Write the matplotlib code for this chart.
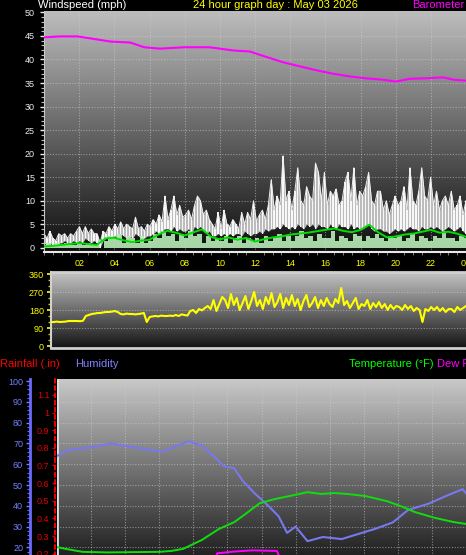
import numpy as np
import matplotlib
matplotlib.use('Agg')
import matplotlib.pyplot as plt
from matplotlib.colors import LinearSegmentedColormap
from matplotlib.ticker import MultipleLocator

plt.rcParams['font.family'] = ['Liberation Sans', 'DejaVu Sans']

# ---- data ----
hour_ticks = [2, 4, 6, 8, 10, 12, 14, 16, 18, 20, 22, 24]
hour_labels = ['02', '04', '06', '08', '10', '12', '14', '16', '18', '20', '22', '00']

# wind gust (mph), 10 minute samples
gust = [
    3, 2, 3.5, 2, 1.5, 3,      2.5, 3, 2, 3, 2.5, 3.5,
    4.5, 3, 4.5, 3, 4, 3,      3, 1, 3.5, 3, 4.5, 3.5,
    5, 4, 5.5, 4, 5, 4.5,      4, 6.5, 4, 4.5, 3.5, 5,
    4.5, 6, 5, 7, 5.5, 11,     6, 8, 11, 7, 9, 6.5,
    7, 8, 6, 9, 11, 10,        7, 8, 6, 5, 4, 7.5,
    4, 8, 5, 4.5, 6, 5,        4, 7.5, 5, 7.5, 6, 10,
    5.5, 7, 8, 6, 9, 14.5,     8, 11, 9, 19.5, 10, 12,
    8, 12, 17, 10, 9, 13,      11, 10, 18, 16, 10, 16,
    9, 12, 11, 12.5, 9, 10,    14, 16, 10, 17, 9, 12,
    11, 13, 16, 10, 9, 12,     12, 8, 10, 7, 9, 11,
    9, 10, 13, 8, 17, 10,      9, 12, 17, 11, 10, 15,
    9, 12, 8, 10, 11, 9,       12, 8, 9, 11, 7, 10,
]
# wind lull (mph), 10 minute samples
lull = [
    1, 0.5, 1, 0.5, 0.5, 1,    1, 1.5, 1, 1, 1.5, 1,
    1.5, 1, 2, 1.5, 1, 1.5,    1, 0, 1.5, 2, 2.5, 2,
    2.5, 2, 3, 2.5, 2, 2.5,    2, 3, 2.5, 2, 2, 2.5,
    2.5, 3, 3.5, 3, 3.5, 4,    4, 3.5, 4.5, 3.5, 4, 3.5,
    3.5, 4, 3, 4.5, 4, 4.5,    3.5, 3, 3.5, 2.5, 2.5, 3,
    2.5, 3, 2.5, 3, 2.5, 3,    3, 2.5, 3.5, 3, 2.5, 3,
    3, 3.5, 3, 4, 3.5, 4,      4, 4.5, 4, 5, 4.5, 4,
    4.5, 4, 5, 4.5, 4, 5,      4.5, 5, 4, 5, 4.5, 4.5,
    4, 5, 4.5, 4, 5, 4.5,      4.5, 4, 5, 4, 4.5, 4,
    4, 4.5, 5, 4, 3.5, 4,      4, 3.5, 3.5, 3, 3.5, 4,
    3.5, 4, 3.5, 4, 4.5, 4,    4, 3.5, 4.5, 4, 4, 4.5,
    4, 4.5, 4, 3.5, 4, 4.5,    4, 3.5, 4, 4.5, 3.5, 3,
]
# average wind speed (mph), 15 minute samples
avg_speed = [
    0.5, 1, 0.5, 1,   0.5, 1, 0.5, 0.5,   1, 0.5, 1, 0.5,   0.5, 0, 1.5, 2.5,
    2, 3, 1, 2.5,     2, 1, 2.5, 1,       1.5, 3, 2, 3.5,   2.5, 3, 1.5, 3,
    2, 3.5, 2.5, 3,   1, 2.5, 1.5, 2,     1.5, 2.5, 1, 2,   2.5, 1, 2, 1.5,
    2, 1, 2.5, 1.5,   2, 3, 1.5, 2.5,     1.5, 2.5, 3.5, 2, 2.5, 1.5, 3, 2,
    2, 3.5, 1.5, 2.5, 2, 1.5, 3, 2.5,     1.5, 2.5, 2, 3,   2, 1.5, 2.5, 2,
    2.5, 1.5, 2, 3,   1.5, 2.5, 2, 1.5,   2.5, 2, 3.5, 2,   2, 1.5, 2.5, 2,
]
# 10 minute average wind speed (mph), half hourly
avg10 = [0.3, 0.4, 0.6, 0.8, 1.0, 0.8, 0.6, 2.0, 2.1, 1.6, 1.2, 1.5, 1.7,
         2.8, 3.6, 3.2, 2.6, 3.3, 3.9, 2.3, 1.8, 2.2, 1.7, 2.1, 1.3, 1.8,
         2.2, 2.4, 2.8, 3.0, 3.2, 3.5, 3.8, 4.1, 3.6, 3.3, 3.8, 4.9, 3.3,
         2.2, 2.4, 2.8, 3.0, 3.4, 3.8, 3.2, 3.4, 3.0, 2.3]

# barometer trace (plotted on the wind scale)
baro_hours = [0, 0.9, 1.9, 2.6, 3.8, 4.9, 5.7, 6.6, 8.0, 9.4, 10.8, 11.7, 12.6,
              13.6, 14.6, 15.5, 16.4, 17.4, 18.3, 19.3, 20.0, 20.8, 21.7, 22.7,
              23.3, 24]
baro = [44.7, 44.9, 44.9, 44.5, 43.8, 43.6, 42.6, 42.3, 42.6, 42.6, 41.9, 41.7,
        40.6, 39.4, 38.5, 37.7, 37.0, 36.4, 36.0, 35.7, 35.3, 35.9, 36.0, 36.2,
        35.7, 35.5]

# wind direction (degrees), 10 minute samples
wind_dir = [
    120, 120, 122, 120, 121, 122,   125, 125, 125, 125, 124, 126,
    150, 155, 160, 162, 165, 165,   168, 170, 170, 172, 175, 170,
    160, 158, 162, 160, 160, 158,   160, 162, 165, 120, 145, 148,
    150, 148, 152, 150, 150, 152,   150, 155, 150, 158, 155, 152,
    175, 180, 165, 185, 178, 190,   200, 185, 230, 175, 210, 245,
    230, 190, 260, 205, 240, 180,   215, 250, 185, 225, 270, 200,
    230, 185, 245, 210, 265, 195,   220, 260, 190, 240, 205, 255,
    200, 235, 180, 225, 255, 195,   215, 245, 190, 230, 200, 240,
    210, 195, 235, 215, 290, 205,   225, 190, 215, 240, 185, 210,
    200, 230, 185, 215, 195, 220,   190, 210, 180, 205, 185, 200,
    195, 180, 205, 185, 200, 175,   190, 180, 120, 185, 175, 195,
    180, 195, 175, 190, 170, 185,   185, 170, 195, 180, 190, 200,
]

hum_hours = [0, 0.7, 1.9, 3.2, 4.6, 6.2, 7.7, 8.5, 9.3, 9.8, 10.4, 10.9, 11.6,
             12.4, 13.0, 13.5, 14.0, 14.7, 15.6, 16.7, 17.9, 18.7, 19.7, 20.6,
             21.8, 22.9, 23.8, 24]
humidity = [64, 67, 68, 70, 68, 66, 71, 69, 63, 59, 58, 52, 46, 40, 35, 27, 30,
            23, 25, 24, 27, 29, 32, 38, 41, 45, 48, 46]

temp_hours = [0, 0.5, 1.5, 3, 4.5, 6, 6.7, 7.4, 8.5, 9.5, 10.4, 11.0, 11.9, 12.8,
              13.9, 14.7, 15.5, 16.3, 17.0, 18.1, 19.4, 20.3, 21.0, 22.2, 23.3, 24]
temperature = [34.1, 33.5, 32.5, 32.3, 32.4, 32.5, 32.8, 33.5, 36.5, 40.2, 42.5,
               45.0, 48.9, 50.3, 51.6, 52.6, 52.0, 52.3, 52.0, 51.3, 49.5, 47.6,
               45.9, 43.9, 42.5, 41.9]

dew_hours = [0, 9.2, 9.4, 10.4, 11.5, 12.9, 13.2, 24]
dew_point = [28, 29, 32.0, 32.6, 33.0, 32.8, 29, 28]

rain_hours = [0, 24]
rainfall = [0, 0]

# ---- figure ----
W, H = 466, 555
fig = plt.figure(figsize=(W / 100, H / 100), dpi=100, facecolor='black')


def add_ax(x0, y0, x1, y1):
    return fig.add_axes([x0 / W, 1 - y1 / H, (x1 - x0) / W, (y1 - y0) / H])


def gradient(ax, top, bottom):
    cmap = LinearSegmentedColormap.from_list('g', [bottom, top])
    g = np.linspace(0, 1, 256).reshape(-1, 1)
    ax.imshow(g, extent=(0, 1, 0, 1), transform=ax.transAxes, aspect='auto',
              cmap=cmap, origin='lower', zorder=0, interpolation='bilinear')


grid_kw = dict(color='#d0d0d0', lw=0.8, ls=(0, (1, 1.5)), alpha=0.55, zorder=1)

# ---- wind speed panel ----
ax1 = add_ax(44, 11, 466, 252)
gradient(ax1, '#bdbdbd', '#0e0e0e')
t_gust = np.linspace(0, 24, len(gust))
t_avg = np.linspace(0, 24, len(avg_speed))
t_avg10 = np.linspace(0, 24, len(avg10))
ax1.fill_between(t_gust, lull, gust, color='#bcbcbc', lw=0, zorder=2)
ax1.bar(t_gust, np.array(gust) - np.array(lull), bottom=lull, width=0.08,
        color='#f8f8f8', lw=0, zorder=2)
ax1.plot(t_gust, gust, color='#eeeeee', lw=0.7, zorder=2)
ax1.fill_between(t_avg, 0, avg_speed, step='mid', color='#b8ecb8', lw=0,
                 alpha=0.9, zorder=3)
ax1.plot(t_avg10, avg10, color='#00e000', lw=1.4, zorder=4)
ax1.plot(baro_hours, baro, color='#ff00ff', lw=1.5, zorder=4)
ax1.set_xlim(0, 24)
ax1.set_ylim(-0.9, 50.3)
for h in hour_ticks[:-1]:
    ax1.axvline(h, **grid_kw)
for v in range(5, 50, 5):
    ax1.axhline(v, **grid_kw)
ax1.set_xticks(hour_ticks)
ax1.set_xticklabels(hour_labels)
ax1.set_yticks(range(0, 51, 5))
ax1.yaxis.set_minor_locator(MultipleLocator(1))
ax1.xaxis.set_minor_locator(MultipleLocator(0.5))
ax1.tick_params(axis='y', which='major', colors='#e8eef8', labelsize=6.5,
                length=3, width=1, pad=3.5)
ax1.tick_params(axis='y', which='minor', colors='#c0c0c0', length=2, width=0.8)
ax1.tick_params(axis='x', which='major', colors='#ffff00', labelsize=6.5,
                length=0, pad=5)
ax1.tick_params(axis='x', which='minor', colors='#909090', length=2, width=0.6)
for s in ['top', 'right']:
    ax1.spines[s].set_visible(False)
ax1.spines['left'].set_color('#c8c8c8')
ax1.spines['bottom'].set_color('#e8e8e8')
ax1.spines['bottom'].set_linewidth(1.5)

# ---- wind direction panel ----
ax2 = add_ax(51, 272, 466, 348)
gradient(ax2, '#c4c4c4', '#141414')
t_dir = np.linspace(0, 24, len(wind_dir))
ax2.plot(t_dir, wind_dir, color='#ffff00', lw=1.5, zorder=3)
ax2.set_xlim(0, 24)
ax2.set_ylim(-10, 370)
for v in (90, 180, 270):
    ax2.axhline(v, **grid_kw)
ax2.set_xticks([])
ax2.set_yticks([0, 90, 180, 270, 360])
ax2.yaxis.set_minor_locator(MultipleLocator(30))
ax2.tick_params(axis='y', which='major', colors='#ffff00', labelsize=6.5,
                length=3, width=1.2, pad=2)
ax2.tick_params(axis='y', which='minor', colors='#c8c800', length=2, width=1)
for s in ['top', 'bottom']:
    ax2.spines[s].set_color('#d0d0d0')
    ax2.spines[s].set_linewidth(2)
ax2.spines['right'].set_visible(False)
ax2.spines['left'].set_color('#d0d0d0')
ax2.spines['left'].set_linewidth(1.5)

# ---- temperature / humidity / rain panel ----
ax3 = add_ax(57, 379, 466, 590)
gradient(ax3, '#c8c8c8', '#000000')
ax3.set_xlim(0, 24)
ax3.set_ylim(-0.006, 1.19)
ax3.plot(rain_hours, rainfall, color='#ff0000', lw=1.2, zorder=3)
ax3.axvline(0, color='#e0e0e0', lw=2, zorder=2)
ax3.set_xticks([])
ax3.set_yticks(np.round(np.arange(0, 1.11, 0.1), 1))
ax3.set_yticklabels(['0', '0.1', '0.2', '0.3', '0.4', '0.5', '0.6', '0.7', '0.8',
                     '0.9', '1', '1.1'])
ax3.yaxis.set_minor_locator(MultipleLocator(0.05))
ax3.tick_params(axis='y', which='major', colors='#e00000', labelsize=6.5,
                length=2.5, width=1, pad=1.5)
ax3.tick_params(axis='y', which='minor', colors='#c00000', length=1.5, width=0.8)
for s in ['top', 'right', 'bottom']:
    ax3.spines[s].set_visible(False)
ax3.spines['left'].set_color('#ff0000')
ax3.spines['left'].set_linestyle((0, (2, 2)))
ax3.spines['left'].set_linewidth(1.3)
ax3.spines['left'].set_position(('outward', 1.5))

ax_h = ax3.twinx()
ax_h.set_ylim(-0.5, 101)
ax_h.set_xlim(0, 24)
for h in hour_ticks[:-1]:
    ax_h.axvline(h, **grid_kw)
for v in range(10, 100, 10):
    ax_h.axhline(v, **grid_kw)
ax_h.plot(hum_hours, humidity, color='#7878ee', lw=1.5, zorder=4)
ax_h.yaxis.tick_left()
ax_h.set_yticks(range(0, 101, 10))
ax_h.yaxis.set_minor_locator(MultipleLocator(2))
ax_h.tick_params(axis='y', which='major', colors='#7080ff', labelsize=6.5,
                 length=3, width=1, pad=2)
ax_h.tick_params(axis='y', which='minor', colors='#6070ee', length=2, width=0.8)
for s in ['top', 'right', 'bottom']:
    ax_h.spines[s].set_visible(False)
ax_h.spines['left'].set_position(('outward', 19.4))
ax_h.spines['left'].set_color('#6a6aff')
ax_h.spines['left'].set_linewidth(2)

ax_t = ax3.twinx()
ax_t.set_xlim(0, 24)
ax_t.set_ylim(19.65, 90.7)
ax_t.plot(temp_hours, temperature, color='#10dd10', lw=1.4, zorder=4)
ax_t.plot(dew_hours, dew_point, color='#ff00ff', lw=1.4, zorder=4)
ax_t.axis('off')

# ---- header texts ----
def label(x, y, s, color, ha='left'):
    fig.text(x / W, 1 - y / H, s, color=color, fontsize=8, ha=ha, va='center')


label(38, 5.5, 'Windspeed (mph)', 'white')
label(193, 5.5, '24 hour graph day : May 03 2026', '#ffff00')
label(464, 5.5, 'Barometer', '#ff00ff', ha='right')
label(0, 364, 'Rainfall (.in)', '#ff0000')
label(75, 364, 'Humidity', '#8080ff')
label(349, 364, 'Temperature (°F)', '#00ff00')
label(437, 364, 'Dew Point (°F)', '#ff00ff')

fig.savefig('out.png', dpi=100, facecolor='black')
